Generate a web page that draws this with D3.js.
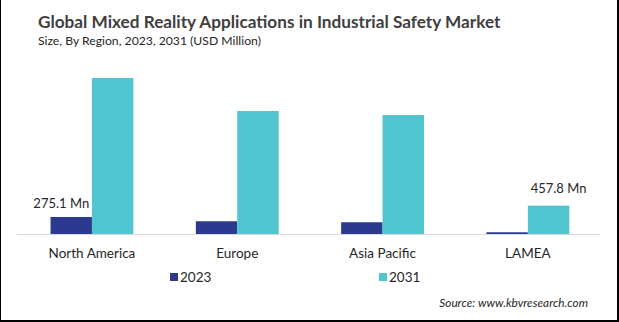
<!DOCTYPE html>
<html>
<head>
<meta charset="utf-8">
<script src="https://cdn.jsdelivr.net/npm/d3@7"></script>
<style>
  body { margin: 0; background: #fff; }
  svg { display: block; font-family: Lato, "Open Sans", sans-serif; }
</style>
</head>
<body>
<svg id="chart"></svg>
<script>
let width = 619;
let height = 322;

let regions = ["North America", "Europe", "Asia Pacific", "LAMEA"];
let years = ["2023", "2031"];
let values2023 = [275.1, 206, 190, 28];
let values2031 = [2522, 1988, 1923, 457.8];
let labels2023 = ["275.1 Mn", null, null, null];
let labels2031 = [null, null, null, "457.8 Mn"];
let colors = ["#2b3a8f", "#50c4cf"];

let svg = d3.select("#chart").attr("width", width).attr("height", height);

svg.append("rect").attr("width", width).attr("height", height).attr("fill", "#fff");

// frame
svg.append("line").attr("x1", 0.5).attr("x2", 0.5).attr("y1", 0).attr("y2", height).attr("stroke", "#000");
svg.append("line").attr("x1", width - 1).attr("x2", width - 1).attr("y1", 0).attr("y2", height).attr("stroke", "#000").attr("stroke-width", 2);
svg.append("line").attr("x1", 0).attr("x2", width).attr("y1", height - 1).attr("y2", height - 1).attr("stroke", "#000").attr("stroke-width", 2);

svg.append("text")
    .attr("x", 38).attr("y", 28)
    .attr("font-size", 17.2).attr("font-weight", "bold").attr("fill", "#404040")
    .text("Global Mixed Reality Applications in Industrial Safety Market");

svg.append("text")
    .attr("x", 38).attr("y", 45)
    .attr("font-size", 12.2).attr("fill", "#262626")
    .text("Size, By Region, 2023, 2031 (USD Million)");

let baseline = 234;
let x = d3.scaleBand().domain(regions).range([19.3, 600.5]).paddingInner(0.43).paddingOuter(0.215);
let xs = d3.scaleBand().domain(years).range([0, x.bandwidth()]);
let y = d3.scaleLinear().domain([0, 2522]).range([baseline, 78]);

let data = regions.map((r, i) => ({
    region: r,
    bars: [
        {year: "2023", value: values2023[i], label: labels2023[i]},
        {year: "2031", value: values2031[i], label: labels2031[i]}
    ]
}));

let groups = svg.append("g").selectAll("g")
    .data(data)
    .join("g")
        .attr("transform", d => `translate(${x(d.region)},0)`);

groups.selectAll("rect")
    .data(d => d.bars)
    .join("rect")
        .attr("x", d => xs(d.year))
        .attr("width", xs.bandwidth())
        .attr("y", d => y(d.value))
        .attr("height", d => baseline - y(d.value))
        .attr("fill", (d, i) => colors[i]);

// axis line
svg.append("line")
    .attr("x1", 17).attr("x2", 600)
    .attr("y1", baseline + 0.5).attr("y2", baseline + 0.5)
    .attr("stroke", "#d9d9d9");

// value labels
groups.selectAll("text.val")
    .data(d => d.bars.filter(b => b.label))
    .join("text")
        .attr("class", "val")
        .attr("x", d => xs(d.year) + xs.bandwidth() / 2 + (d.year == "2023" ? -10 : 10))
        .attr("y", d => y(d.value) - (d.year == "2023" ? 9 : 13))
        .attr("text-anchor", "middle")
        .attr("font-size", 13).attr("fill", "#262626")
        .text(d => d.label);

// category labels
svg.append("g").selectAll("text")
    .data(regions)
    .join("text")
        .attr("x", d => x(d) + x.bandwidth() / 2)
        .attr("y", 258)
        .attr("text-anchor", "middle")
        .attr("font-size", 13.5).attr("fill", "#262626")
        .text(d => d);

// legend
let legendX = [170, 379];
let legend = svg.append("g").selectAll("g")
    .data(years)
    .join("g")
        .attr("transform", (d, i) => `translate(${legendX[i]},273)`);
legend.append("rect").attr("width", 8).attr("height", 8).attr("fill", (d, i) => colors[i]);
legend.append("text")
    .attr("x", 10).attr("y", 8.5)
    .attr("font-size", 13.5).attr("fill", "#262626")
    .text(d => d);

svg.append("text")
    .attr("x", 588).attr("y", 307)
    .attr("text-anchor", "end")
    .attr("font-size", 11.8).attr("font-style", "italic").attr("fill", "#262626")
    .text("Source: www.kbvresearch.com");
</script>
</body>
</html>
